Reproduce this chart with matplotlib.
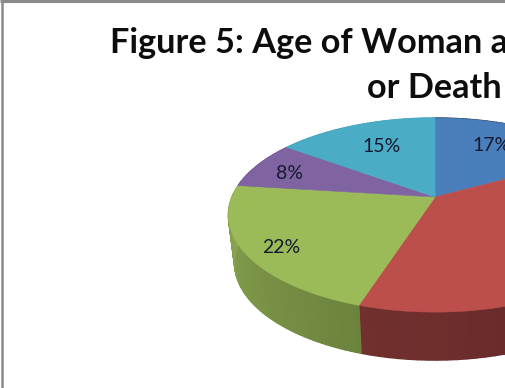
import numpy as np
import matplotlib
matplotlib.use('Agg')
import matplotlib.pyplot as plt

# ----- Datos -----
SLICE_NAMES = ['blue', 'red', 'green', 'purple', 'teal']
SLICE_VALUES = [17, 38, 22, 8, 15]  # red label is off the crop, estimated from the rest
SLICE_LABELS = ['17%', '', '22%', '8%', '15%']
TITLE_LINE_1 = 'Figure 5: Age of Woman a'
TITLE_LINE_2 = 'or Death'

# ----- Estilo -----
TOP_COLORS = ['#4A7EBB', '#BC4F4C', '#9BBB59', '#8064A2', '#4BACC6']
LABEL_RADII = [0.65, 0.7, 0.85, 0.8, 0.65]
LABEL_NUDGE = [(-4, -4), (0, 0), (5, 4), (-2, 3), (1, -2)]
# wall brightness at start and end of each slice (clockwise from 12 o'clock)
WALL_SHADE = [(0.40, 0.42), (0.44, 0.60), (0.70, 0.90), (0.9, 0.9), (0.9, 0.9)]

# pie geometry in pixels, with a perspective term for the tilted disc
CX, CY = 435, 197
RX, RY = 203, 93.7
PERSP = -0.186
DEPTH = 48
BOTTOM_SCALE = 0.97


def project(theta, r=1.0):
    u = r * np.sin(theta)
    v = -r * np.cos(theta)
    w = 1 + PERSP * v
    return CX + RX * u / w, CY + RY * v / w


fig = plt.figure(figsize=(5.06, 3.88), dpi=100)
ax = fig.add_axes([0, 0, 1, 1])
ax.set_xlim(0, 506)
ax.set_ylim(388, 0)
ax.axis('off')

# chart frame, only top and left show in the crop
ax.plot([2.5, 2.5], [1, 388], color='#8A8A8A', lw=1.8, solid_capstyle='butt')
ax.plot([0, 506], [1, 1], color='#8A8A8A', lw=2.2, solid_capstyle='butt')

fracs = np.cumsum([0] + SLICE_VALUES) / sum(SLICE_VALUES)
angles = 2 * np.pi * fracs

# side wall first, the top face covers whatever falls behind it
for i in range(len(SLICE_VALUES)):
    ts = np.linspace(angles[i], angles[i + 1], 60)
    rgb = np.array(matplotlib.colors.to_rgb(TOP_COLORS[i]))
    shades = np.linspace(WALL_SHADE[i][0], WALL_SHADE[i][1], len(ts) - 1)
    for j in range(len(ts) - 1):
        x0, y0 = project(ts[j])
        x1, y1 = project(ts[j + 1])
        xb0 = CX + (x0 - CX) * BOTTOM_SCALE
        xb1 = CX + (x1 - CX) * BOTTOM_SCALE
        col = rgb * shades[j]
        ax.fill([x0, x1, xb1, xb0], [y0, y1, y1 + DEPTH, y0 + DEPTH],
                facecolor=col, edgecolor=col, lw=1.0, zorder=2)

# top face
for i in range(len(SLICE_VALUES)):
    ts = np.linspace(angles[i], angles[i + 1], 120)
    xs, ys = project(ts)
    ax.fill(np.r_[CX, xs], np.r_[CY, ys], color=TOP_COLORS[i], lw=0.4, zorder=3)

# etiquetas
for i, lab in enumerate(SLICE_LABELS):
    if lab:
        mid = 0.5 * (angles[i] + angles[i + 1])
        lx, ly = project(mid, LABEL_RADII[i])
        ax.text(lx + LABEL_NUDGE[i][0], ly + LABEL_NUDGE[i][1], lab, ha='center', va='center',
                fontsize=14, family='Lato', color='#151A30', zorder=4)

ax.text(110, 43, TITLE_LINE_1, ha='left', va='center', fontsize=24.7, family='Lato',
        weight='bold', color='#0D0D0D')
ax.text(367, 88, TITLE_LINE_2, ha='left', va='center', fontsize=24.7, family='Lato',
        weight='bold', color='#0D0D0D')

fig.savefig('out.png', dpi=100)
